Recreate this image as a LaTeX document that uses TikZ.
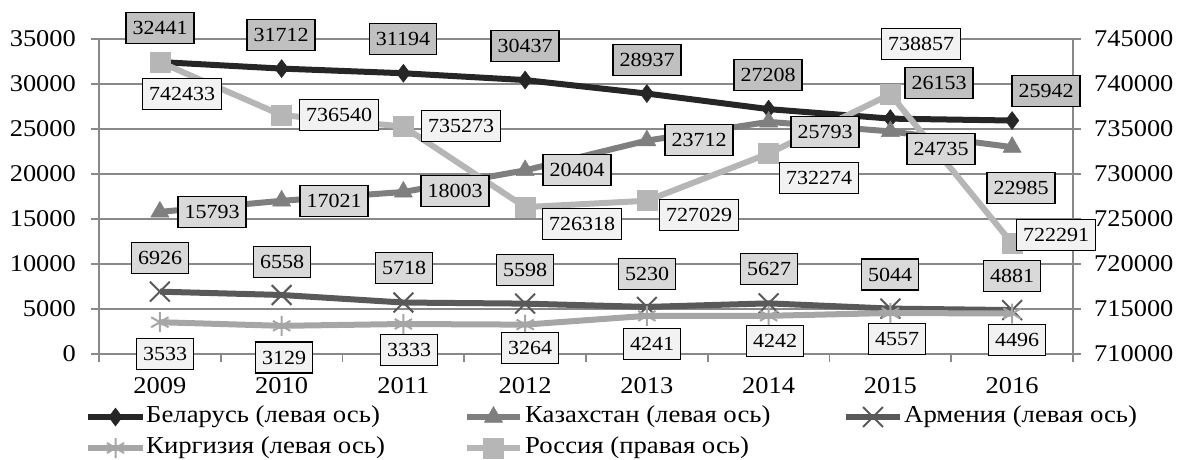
\documentclass[tikz,border=0pt]{standalone}
\usepackage{fontspec}
\setmainfont{Liberation Serif}[FakeStretch=1.1]
\usetikzlibrary{plotmarks}

\definecolor{gridgray}{HTML}{898989}
\definecolor{belcol}{HTML}{262626}
\definecolor{kazcol}{HTML}{7F7F7F}
\definecolor{armcol}{HTML}{595959}
\definecolor{kircol}{HTML}{A6A6A6}
\definecolor{ruscol}{HTML}{B6B6B6}
\definecolor{lbldark}{HTML}{C0C0C0}
\definecolor{lblmid}{HTML}{D9D9D9}
\definecolor{lbllight}{HTML}{F2F2F2}

\tikzset{
  datalbl/.style={draw=black, line width=1.6pt, inner xsep=6.5pt, inner ysep=0pt,
    minimum height=31pt, font=\fontsize{20}{20}\selectfont},
  series/.style={line width=6pt, line join=round},
  axislbl/.style={inner sep=0pt, font=\fontsize{24}{24}\selectfont},
  legendtxt/.style={anchor=west, inner sep=0pt, font=\fontsize{24.3}{25}\selectfont},
}

\begin{document}
\begin{tikzpicture}[x=1pt, y=-1pt]
\useasboundingbox (0,0) rectangle (1178,460);

%% grid and axes
\foreach \k in {0,...,7}
  \draw [gridgray, line width=1.8pt] (91,39+45*\k) -- (1081,39+45*\k);
\draw [gridgray, line width=1.8pt] (99,39) -- (99,362);
\draw [gridgray, line width=1.8pt] (1073,39) -- (1073,362);
\foreach \j in {1,...,7}
  \draw [gridgray, line width=1.8pt] (99+121.75*\j,354) -- (99+121.75*\j,362);

%% axis labels
\foreach \v [count=\k] in {35000,30000,25000,20000,15000,10000,5000,0}
  \node [axislbl, anchor=east] (yl-\k) at (76,39+45*\k-45) {\v};
\foreach \v [count=\k] in {745000,740000,735000,730000,725000,720000,715000,710000}
  \node [axislbl, anchor=west] (yr-\k) at (1094,39+45*\k-45) {\v};
\foreach \yr [count=\j] in {2009,...,2016}
  \node [axislbl] (yr\yr) at (99+121.75*\j-60.875,386) {\yr};

%% series (values in thousands)
\begin{scope}[shift={(159.875,354)}, x=121.75pt, y=9pt]
  \draw [series, belcol, mark=diamond*, mark size=9pt, mark options={line width=0.5pt}]
    plot coordinates {(0,32.441) (1,31.712) (2,31.194) (3,30.437) (4,28.937) (5,27.208) (6,26.153) (7,25.942)};
  \draw [series, kazcol, mark=triangle*, mark size=10.5pt, mark options={line width=0.5pt}]
    plot coordinates {(0,15.793) (1,17.021) (2,18.003) (3,20.404) (4,23.712) (5,25.793) (6,24.735) (7,22.985)};
  \draw [series, armcol, mark=x, mark size=14pt, mark options={line width=2pt}]
    plot coordinates {(0,6.926) (1,6.558) (2,5.718) (3,5.598) (4,5.230) (5,5.627) (6,5.044) (7,4.881)};
  \draw [series, kircol, mark=asterisk, mark size=10pt, mark options={line width=2pt}]
    plot coordinates {(0,3.533) (1,3.129) (2,3.333) (3,3.264) (4,4.241) (5,4.242) (6,4.557) (7,4.496)};
  % right axis: value - 710000
  \draw [series, ruscol, mark=square*, mark size=10pt, mark options={line width=0.5pt}]
    plot coordinates {(0,32.433) (1,26.540) (2,25.273) (3,16.318) (4,17.029) (5,22.274) (6,28.857) (7,12.291)};
\end{scope}

%% data labels
\foreach \px/\py/\val [count=\n] in {160/28/32441, 281/35/31712, 403/39/31194, 525/46/30437,
    647/60/28937, 768/75/27208, 939/83/26153, 1046/91/25942}
  \node [datalbl, fill=lbldark] (bel-\n) at (\px,\py) {\val};
\foreach \px/\py/\val [count=\n] in {212/212/15793, 334/201/17021, 455/191/18003, 577/170/20404,
    699/140/23712, 825/132/25793, 941/149/24735, 1021/188/22985}
  \node [datalbl, fill=lblmid] (kaz-\n) at (\px,\py) {\val};
\foreach \px/\py/\val [count=\n] in {160/258/6926, 282/262/6558, 404/268/5718, 525/270/5598,
    647/274/5230, 769/269/5627, 890/274.5/5044, 1012/276/4881}
  \node [datalbl, fill=lblmid] (arm-\n) at (\px,\py) {\val};
\foreach \px/\py/\val [count=\n] in {165/354/3533, 284/357.5/3129, 409/350/3333, 530/348/3264,
    652/344/4241, 775/341/4242, 897/339/4557, 1017/340/4496}
  \node [datalbl, fill=lbllight] (kir-\n) at (\px,\py) {\val};
\foreach \px/\py/\val [count=\n] in {182/94/742433, 339/115/736540, 461/126/735273, 582/224/726318,
    699/215/727029, 819/178/732274, 921/44/738857, 1056/235/722291}
  \node [datalbl, fill=lbllight] (rus-\n) at (\px,\py) {\val};

%% legend
\draw [series, belcol, mark=diamond*, mark size=9pt, mark indices={2}, mark options={line width=0.5pt}]
  plot coordinates {(88,417) (115.5,417) (143,417)};
\node [legendtxt] (leg-bel) at (146,417) {Беларусь (левая ось)};
\draw [series, kazcol, mark=triangle*, mark size=10.5pt, mark indices={2}, mark options={line width=0.5pt}]
  plot coordinates {(467,417) (493.5,417) (520,417)};
\node [legendtxt] (leg-kaz) at (525,417) {Казахстан (левая ось)};
\draw [series, armcol, mark=x, mark size=14pt, mark indices={2}, mark options={line width=2pt}]
  plot coordinates {(846,417) (873,417) (900,417)};
\node [legendtxt] (leg-arm) at (904,417) {Армения (левая ось)};
\draw [series, kircol, mark=asterisk, mark size=10pt, mark indices={2}, mark options={line width=2pt}]
  plot coordinates {(88,448) (115.5,448) (143,448)};
\node [legendtxt] (leg-kir) at (146,448) {Киргизия (левая ось)};
\draw [series, ruscol, mark=square*, mark size=10pt, mark indices={2}, mark options={line width=0.5pt}]
  plot coordinates {(467,448) (493.5,448) (520,448)};
\node [legendtxt] (leg-rus) at (525,448) {Россия (правая ось)};
\end{tikzpicture}
\end{document}
